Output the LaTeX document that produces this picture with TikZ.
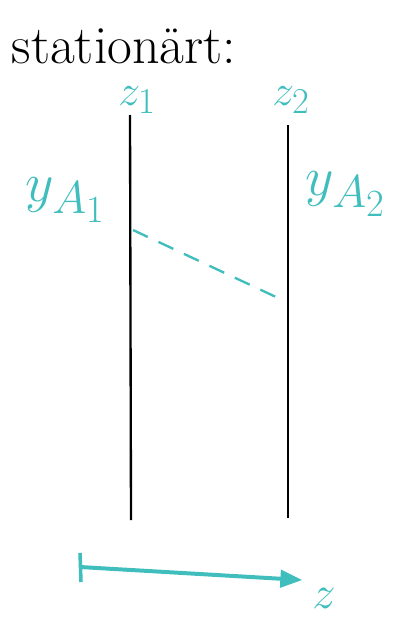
\documentclass[tikz,border=0pt]{standalone}
\usepackage{amsmath}
\usepackage{graphicx}
\usepackage{fontspec}
\usepackage{tikz}
\usetikzlibrary{arrows}
\definecolor{mint}{RGB}{64,189,189}

\begin{document}
\begin{tikzpicture}[x=0.03cm,y=-0.03cm]
 \useasboundingbox (0,0) rectangle (413,618);
 \node [inner sep=0pt] (T) at (124,46) {\fontsize{46}{50}\selectfont stationärt:};
 \node [mint,inner sep=0pt] (Z1) at (137,100) {\Huge\scalebox{1.5}{$z_1$}};
 \node [mint,inner sep=0pt] (Z2) at (291,100) {\Huge\scalebox{1.5}{$z_2$}};
 \node [mint] (Y1) at (66,200) {\Huge\scalebox{1.9}{$y_{A_1}$}};
 \node [mint] (Y2) at (346,194) {\Huge\scalebox{1.9}{$y_{A_2}$}};
 \node [mint,inner sep=0pt] (Z) at (324,598) {\Huge\scalebox{1.6}{$z$}};
 \coordinate (L1) at (130,115);
 \coordinate (L2) at (131,520);
 \coordinate (R1) at (288,125);
 \coordinate (R2) at (288,518);
 \coordinate (D1) at (133,230);
 \coordinate (D2) at (276,297);
 \coordinate (A1) at (80,567);
 \coordinate (A2) at (302,580);
 \coordinate (B1) at (80,553);
 \coordinate (B2) at (81,582);
 \draw [line width=2pt] (L1) -- (L2);
 \draw [line width=2pt] (R1) -- (R2);
 \draw [mint,line width=2pt,dash pattern=on 14pt off 10pt] (D1) -- (D2);
 \draw [mint,line width=3pt] (B1) -- (B2);
 \draw [mint,line width=3.4pt,-triangle 45] (A1) -- (A2);
\end{tikzpicture}
\end{document}
